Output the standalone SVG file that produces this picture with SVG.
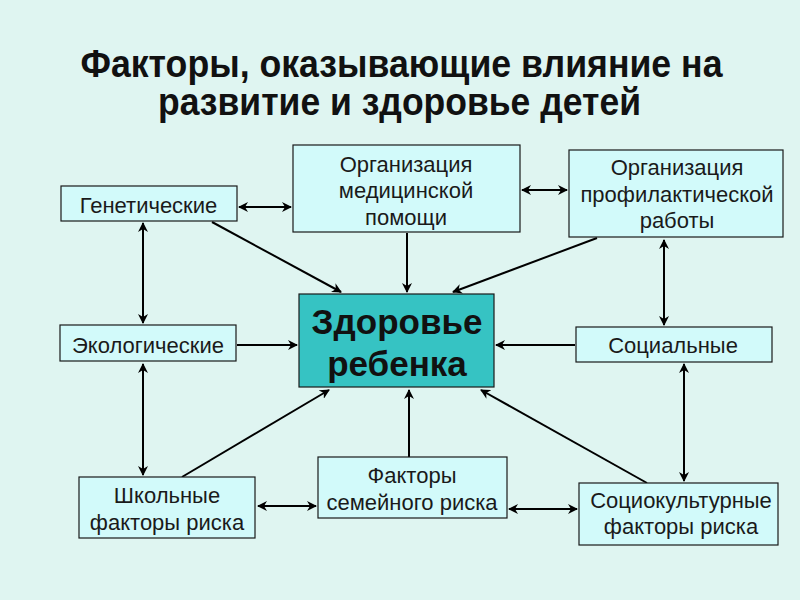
<svg xmlns="http://www.w3.org/2000/svg" width="800" height="600" viewBox="0 0 800 600">
<defs>
<style>
.box{fill:#D2FAFA;stroke:#1a1a1a;stroke-width:1.2}
.center{fill:#36C3C3;stroke:#1a1a1a;stroke-width:1.2}
.t{font-family:"Liberation Sans",Arial,sans-serif;font-size:22px;fill:#1a1a1a;text-anchor:middle}
.ct{font-family:"Liberation Sans",Arial,sans-serif;font-size:35px;font-weight:bold;fill:#111;text-anchor:middle}
.title{font-family:"Liberation Sans",Arial,sans-serif;font-size:38px;font-weight:bold;fill:#111;text-anchor:middle}
.c line{stroke:#000;stroke-width:2;fill:none}
</style>
<marker id="ah" viewBox="0 0 10 10" refX="9" refY="5" markerWidth="5" markerHeight="5" orient="auto-start-reverse" markerUnits="strokeWidth">
<path d="M0,0 L10,5 L0,10 L3,5 z" fill="#000"/>
</marker>
</defs>
<rect width="800" height="600" fill="#DFF5F1"/>
<text class="title" x="401.5" y="77" textLength="642" lengthAdjust="spacingAndGlyphs">Факторы, оказывающие влияние на</text>
<text class="title" x="399.5" y="115" textLength="483" lengthAdjust="spacingAndGlyphs">развитие и здоровье детей</text>

<g class="c" id="connectors">
<line x1="239" y1="207" x2="291" y2="207" marker-start="url(#ah)" marker-end="url(#ah)"/>
<line x1="522" y1="190" x2="567" y2="190" marker-start="url(#ah)" marker-end="url(#ah)"/>
<line x1="212" y1="222" x2="341" y2="292" marker-end="url(#ah)"/>
<line x1="407" y1="233" x2="407" y2="292" marker-end="url(#ah)"/>
<line x1="597" y1="238" x2="453" y2="292" marker-end="url(#ah)"/>
<line x1="143" y1="223" x2="143" y2="323" marker-start="url(#ah)" marker-end="url(#ah)"/>
<line x1="237" y1="345" x2="297" y2="345" marker-end="url(#ah)"/>
<line x1="575" y1="345" x2="496" y2="345" marker-end="url(#ah)"/>
<line x1="664" y1="240" x2="664" y2="325" marker-start="url(#ah)" marker-end="url(#ah)"/>
<line x1="143" y1="364" x2="143" y2="475" marker-start="url(#ah)" marker-end="url(#ah)"/>
<line x1="182" y1="477" x2="329" y2="390" marker-end="url(#ah)"/>
<line x1="258" y1="506" x2="316" y2="506" marker-start="url(#ah)" marker-end="url(#ah)"/>
<line x1="409" y1="457" x2="409" y2="390" marker-end="url(#ah)"/>
<line x1="509" y1="509" x2="577" y2="509" marker-start="url(#ah)" marker-end="url(#ah)"/>
<line x1="647" y1="483" x2="481" y2="390" marker-end="url(#ah)"/>
<line x1="684" y1="364" x2="684" y2="481" marker-start="url(#ah)" marker-end="url(#ah)"/>
</g>

<g id="genetic"><rect class="box" x="61" y="186" width="176" height="35"/><text class="t" x="148.5" y="213">Генетические</text></g>
<g id="medical"><rect class="box" x="293" y="145" width="227" height="87"/><text class="t" x="406" y="172">Организация</text><text class="t" x="406" y="198">медицинской</text><text class="t" x="406" y="225">помощи</text></g>
<g id="prevention"><rect class="box" x="569" y="150" width="214" height="87"/><text class="t" x="677" y="175">Организация</text><text class="t" x="677" y="202">профилактической</text><text class="t" x="677" y="228">работы</text></g>
<g id="health"><rect class="center" x="299" y="294" width="195" height="93"/><text class="ct" x="397" y="334">Здоровье</text><text class="ct" x="397" y="376">ребенка</text></g>
<g id="ecological"><rect class="box" x="60" y="325" width="176" height="36"/><text class="t" x="148" y="353">Экологические</text></g>
<g id="social"><rect class="box" x="576" y="327" width="196" height="35"/><text class="t" x="673" y="353">Социальные</text></g>
<g id="school"><rect class="box" x="79" y="477" width="176" height="61"/><text class="t" x="167" y="503">Школьные</text><text class="t" x="167" y="530">факторы риска</text></g>
<g id="family"><rect class="box" x="318" y="457" width="189" height="61"/><text class="t" x="412" y="483">Факторы</text><text class="t" x="412" y="510">семейного риска</text></g>
<g id="sociocultural"><rect class="box" x="579" y="483" width="199" height="62"/><text class="t" x="681" y="508">Социокультурные</text><text class="t" x="681" y="534">факторы риска</text></g>
</svg>
